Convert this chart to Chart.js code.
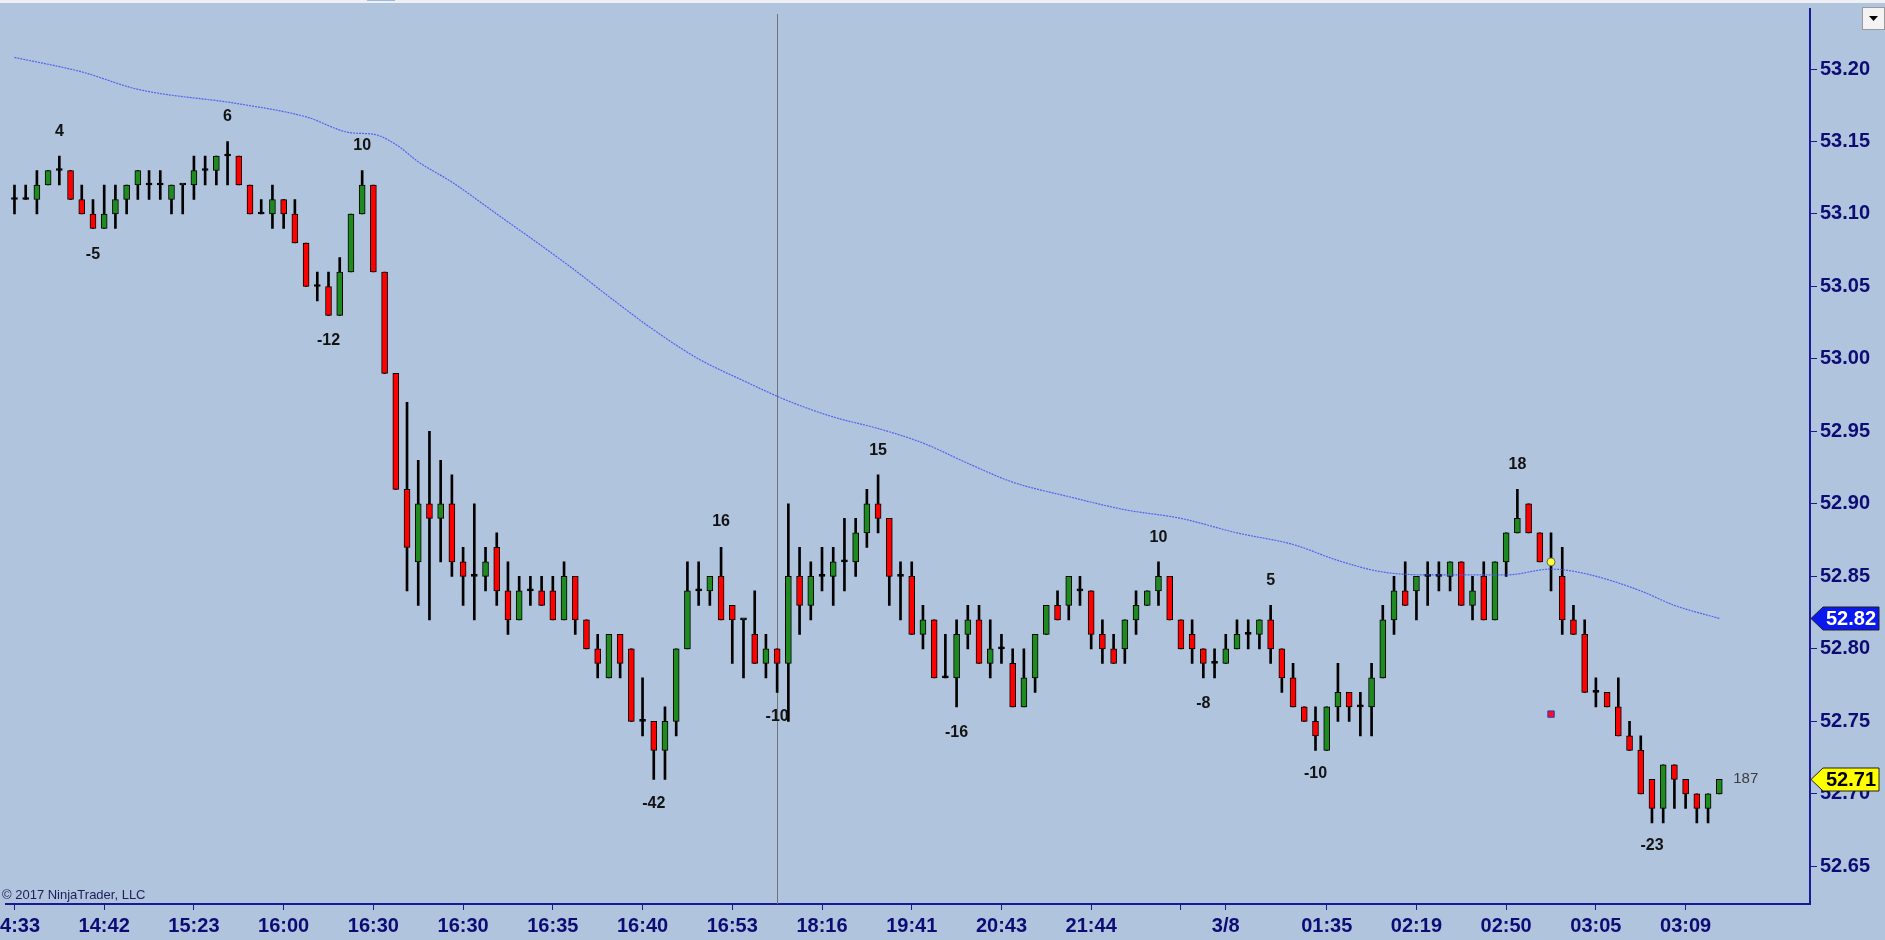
<!DOCTYPE html>
<html>
<head>
<meta charset="utf-8">
<title>CL 04-17 - NinjaTrader</title>
<script src="https://cdn.jsdelivr.net/npm/chart.js@4.4.1/dist/chart.umd.min.js"></script>
<style>
    html, body { margin: 0; padding: 0; background: #b0c4de; overflow: hidden; }
    canvas { display: block; }
</style>
</head>
<body>
<canvas id="grafico" width="1885" height="940"></canvas>
<script>
// Velas (barra 1 = la primera de la izquierda)
const opens = [
    53.11, 53.11, 53.11, 53.12, 53.13, 53.13, 53.11, 53.10, 53.09, 53.10,
    53.11, 53.12, 53.12, 53.12, 53.11, 53.12, 53.12, 53.13, 53.13, 53.14,
    53.14, 53.12, 53.10, 53.10, 53.11, 53.10, 53.08, 53.05, 53.05, 53.03,
    53.06, 53.10, 53.12, 53.06, 52.99, 52.91, 52.86, 52.90, 52.89, 52.90,
    52.86, 52.85, 52.85, 52.87, 52.84, 52.82, 52.84, 52.84, 52.84, 52.82,
    52.85, 52.82, 52.80, 52.78, 52.81, 52.80, 52.75, 52.75, 52.73, 52.75,
    52.80, 52.84, 52.84, 52.85, 52.83, 52.82, 52.81, 52.79, 52.80, 52.79,
    52.85, 52.83, 52.85, 52.85, 52.86, 52.86, 52.88, 52.90, 52.89, 52.85,
    52.85, 52.81, 52.82, 52.78, 52.78, 52.81, 52.82, 52.79, 52.80, 52.79,
    52.76, 52.78, 52.81, 52.83, 52.83, 52.84, 52.84, 52.81, 52.80, 52.80,
    52.82, 52.83, 52.84, 52.85, 52.82, 52.81, 52.80, 52.79, 52.79, 52.80,
    52.81, 52.81, 52.82, 52.80, 52.78, 52.76, 52.75, 52.73, 52.76, 52.77,
    52.76, 52.76, 52.78, 52.82, 52.84, 52.84, 52.85, 52.85, 52.85, 52.86,
    52.83, 52.85, 52.82, 52.86, 52.88, 52.90, 52.88, 52.86, 52.85, 52.82,
    52.81, 52.77, 52.77, 52.76, 52.74, 52.73, 52.71, 52.69, 52.72, 52.71,
    52.70, 52.69, 52.70
];
const highs = [
    53.12, 53.12, 53.13, 53.13, 53.14, 53.13, 53.12, 53.11, 53.12, 53.12,
    53.12, 53.13, 53.13, 53.13, 53.12, 53.12, 53.14, 53.14, 53.14, 53.15,
    53.14, 53.12, 53.11, 53.12, 53.11, 53.11, 53.08, 53.06, 53.06, 53.07,
    53.10, 53.13, 53.12, 53.06, 52.99, 52.97, 52.93, 52.95, 52.93, 52.92,
    52.87, 52.90, 52.87, 52.88, 52.86, 52.85, 52.85, 52.85, 52.85, 52.86,
    52.85, 52.82, 52.81, 52.81, 52.81, 52.80, 52.78, 52.75, 52.76, 52.80,
    52.86, 52.86, 52.85, 52.87, 52.83, 52.82, 52.84, 52.81, 52.80, 52.90,
    52.87, 52.86, 52.87, 52.87, 52.89, 52.89, 52.91, 52.92, 52.89, 52.86,
    52.86, 52.83, 52.82, 52.81, 52.82, 52.83, 52.83, 52.82, 52.81, 52.80,
    52.80, 52.81, 52.83, 52.84, 52.85, 52.85, 52.84, 52.82, 52.81, 52.82,
    52.84, 52.84, 52.86, 52.85, 52.82, 52.82, 52.80, 52.80, 52.81, 52.82,
    52.82, 52.82, 52.83, 52.80, 52.79, 52.76, 52.76, 52.76, 52.79, 52.77,
    52.77, 52.79, 52.83, 52.85, 52.86, 52.85, 52.86, 52.86, 52.86, 52.86,
    52.85, 52.86, 52.86, 52.88, 52.91, 52.90, 52.88, 52.88, 52.87, 52.83,
    52.82, 52.78, 52.77, 52.78, 52.75, 52.74, 52.71, 52.72, 52.72, 52.71,
    52.70, 52.70, 52.71
];
const lows = [
    53.10, 53.11, 53.10, 53.12, 53.12, 53.11, 53.10, 53.09, 53.09, 53.09,
    53.10, 53.11, 53.11, 53.11, 53.10, 53.10, 53.11, 53.12, 53.12, 53.12,
    53.12, 53.10, 53.10, 53.09, 53.09, 53.08, 53.05, 53.04, 53.03, 53.03,
    53.06, 53.10, 53.06, 52.99, 52.91, 52.84, 52.83, 52.82, 52.86, 52.85,
    52.83, 52.82, 52.84, 52.83, 52.81, 52.82, 52.83, 52.83, 52.82, 52.82,
    52.81, 52.80, 52.78, 52.78, 52.78, 52.75, 52.74, 52.71, 52.71, 52.74,
    52.80, 52.83, 52.83, 52.82, 52.79, 52.78, 52.79, 52.78, 52.77, 52.75,
    52.81, 52.82, 52.84, 52.83, 52.84, 52.85, 52.87, 52.88, 52.83, 52.82,
    52.81, 52.80, 52.78, 52.78, 52.76, 52.80, 52.79, 52.78, 52.79, 52.76,
    52.76, 52.77, 52.81, 52.82, 52.82, 52.83, 52.80, 52.79, 52.79, 52.79,
    52.81, 52.83, 52.83, 52.82, 52.80, 52.79, 52.78, 52.78, 52.79, 52.80,
    52.80, 52.80, 52.79, 52.77, 52.76, 52.75, 52.73, 52.73, 52.75, 52.75,
    52.74, 52.74, 52.78, 52.81, 52.83, 52.82, 52.83, 52.84, 52.84, 52.83,
    52.82, 52.82, 52.82, 52.85, 52.88, 52.88, 52.86, 52.84, 52.81, 52.81,
    52.77, 52.76, 52.76, 52.74, 52.73, 52.70, 52.68, 52.68, 52.69, 52.69,
    52.68, 52.68, 52.70
];
const closes = [
    53.11, 53.11, 53.12, 53.13, 53.13, 53.11, 53.10, 53.09, 53.10, 53.11,
    53.12, 53.13, 53.12, 53.12, 53.12, 53.12, 53.13, 53.13, 53.14, 53.14,
    53.12, 53.10, 53.10, 53.11, 53.10, 53.08, 53.05, 53.05, 53.03, 53.06,
    53.10, 53.12, 53.06, 52.99, 52.91, 52.87, 52.90, 52.89, 52.90, 52.86,
    52.85, 52.85, 52.86, 52.84, 52.82, 52.84, 52.84, 52.83, 52.82, 52.85,
    52.82, 52.80, 52.79, 52.81, 52.79, 52.75, 52.75, 52.73, 52.75, 52.80,
    52.84, 52.84, 52.85, 52.82, 52.82, 52.82, 52.79, 52.80, 52.79, 52.85,
    52.83, 52.85, 52.85, 52.86, 52.86, 52.88, 52.90, 52.89, 52.85, 52.85,
    52.81, 52.82, 52.78, 52.78, 52.81, 52.82, 52.79, 52.80, 52.80, 52.76,
    52.78, 52.81, 52.83, 52.82, 52.85, 52.84, 52.81, 52.80, 52.79, 52.82,
    52.83, 52.84, 52.85, 52.82, 52.80, 52.80, 52.79, 52.79, 52.80, 52.81,
    52.81, 52.82, 52.80, 52.78, 52.76, 52.75, 52.74, 52.76, 52.77, 52.76,
    52.76, 52.78, 52.82, 52.84, 52.83, 52.85, 52.85, 52.85, 52.86, 52.83,
    52.84, 52.82, 52.86, 52.88, 52.89, 52.88, 52.86, 52.86, 52.82, 52.81,
    52.77, 52.77, 52.76, 52.74, 52.73, 52.70, 52.69, 52.72, 52.71, 52.70,
    52.69, 52.70, 52.71
];

const maBars = [1, 7, 12, 21, 27, 31, 33, 35, 37, 40, 44, 48, 51, 54, 58, 62, 66, 70, 74, 78,
                82, 86, 90, 95, 100, 105, 110, 115, 119, 123, 128, 134, 138, 141, 146, 149, 153];
const maValues = [53.208, 53.198, 53.186, 53.176, 53.167, 53.156, 53.155, 53.148, 53.136, 53.122,
                  53.100, 53.078, 53.061, 53.043, 53.020, 53.000, 52.985, 52.971, 52.960, 52.952,
                  52.942, 52.928, 52.915, 52.905, 52.896, 52.890, 52.880, 52.872, 52.861, 52.853,
                  52.851, 52.851, 52.855, 52.852, 52.840, 52.830, 52.821];

// Conteo de swings
const swingBars = [5, 8, 20, 29, 32, 58, 64, 69, 78, 85, 103, 107, 113, 117, 135, 147];
const swingTexts = ['4', '-5', '6', '-12', '10', '-42', '16', '-10', '15', '-16', '10', '-8', '5', '-10', '18', '-23'];
const swingPrices = [53.157, 53.072, 53.167, 53.013, 53.147, 52.693, 52.888, 52.753, 52.937, 52.742,
                     52.877, 52.762, 52.847, 52.714, 52.927, 52.664];

// Marcas de senal
const dotBars = [138];
const dotPrices = [52.86];
const squareBars = [138];
const squarePrices = [52.755];

// Ejes
const xTickBars = [1, 9, 17, 25, 33, 41, 49, 57, 65, 73, 81, 89, 97, 105, 109, 118, 126, 134, 142, 150];
const xTickLabels = ['14:33', '14:42', '15:23', '16:00', '16:30', '16:30', '16:35', '16:40', '16:53', '18:16',
                     '19:41', '20:43', '21:44', '', '3/8', '01:35', '02:19', '02:50', '03:05', '03:09'];
const yTickValues = [52.65, 52.70, 52.75, 52.80, 52.85, 52.90, 52.95, 53.00, 53.05, 53.10, 53.15, 53.20];
const sessionBreakBar = 69;
const barCount = 187;

const FONT = "'Liberation Sans', Arial, sans-serif";
const NAVY = '#1a1a96';
const TICK_TEXT = '#0c0c74';
const VERDE = '#1f8a1f';
const ROJO = '#ff0000';

const barNumbers = opens.map((_, i) => i + 1);
const bodyColors = barNumbers.map((_, i) => closes[i] > opens[i] ? VERDE : (closes[i] < opens[i] ? ROJO : '#000'));

const decoracion = {
    id: 'decoracion',
    beforeDraw(chart) {
        const c = chart.ctx;
        c.save();
        c.fillStyle = '#b0c4de';
        c.fillRect(0, 0, chart.width, chart.height);
        c.fillStyle = '#eef0f4';
        c.fillRect(0, 0, chart.width, 3);
        c.fillStyle = '#9ab8e0';
        c.fillRect(367, 0, 28, 1);
        c.restore();
    },
    beforeDatasetsDraw(chart) {
        const c = chart.ctx;
        const x = Math.round(chart.scales.x.getPixelForValue(sessionBreakBar)) + 0.5;
        c.save();
        c.strokeStyle = '#737373';
        c.lineWidth = 1;
        c.beginPath();
        c.moveTo(x, chart.chartArea.top + 5);
        c.lineTo(x, chart.chartArea.bottom);
        c.stroke();
        c.restore();
    },
    afterDraw(chart) {
        const c = chart.ctx;
        const xs = chart.scales.x, ys = chart.scales.y;
        const area = chart.chartArea;
        c.save();

        // numeros de swing
        c.font = 'bold 16px ' + FONT;
        c.fillStyle = '#121212';
        c.textAlign = 'center';
        c.textBaseline = 'middle';
        swingBars.forEach((b, i) => {
            c.fillText(swingTexts[i], xs.getPixelForValue(b), ys.getPixelForValue(swingPrices[i]));
        });

        // contador de la barra actual
        const last = barNumbers[barNumbers.length - 1];
        c.font = '15px ' + FONT;
        c.fillStyle = '#3c3c3c';
        c.textAlign = 'left';
        c.fillText(String(barCount), xs.getPixelForValue(last) + 14, ys.getPixelForValue(closes[closes.length - 1]));

        // etiquetas de precio en el eje
        function etiqueta(valor, fondo, colorTexto) {
            const y = Math.round(ys.getPixelForValue(valor)) + 0.5;
            const x0 = area.right + 1;
            c.beginPath();
            c.moveTo(x0, y);
            c.lineTo(x0 + 12, y - 11.5);
            c.lineTo(x0 + 68, y - 11.5);
            c.lineTo(x0 + 68, y + 11.5);
            c.lineTo(x0 + 12, y + 11.5);
            c.closePath();
            c.fillStyle = fondo;
            c.fill();
            c.strokeStyle = '#202020';
            c.lineWidth = 1;
            c.stroke();
            c.font = 'bold 20px ' + FONT;
            c.fillStyle = colorTexto;
            c.textAlign = 'center';
            c.textBaseline = 'middle';
            c.fillText(valor.toFixed(2), x0 + 40, y + 1);
        }
        etiqueta(maValues[maValues.length - 1], '#0a18f0', '#ffffff');
        etiqueta(closes[closes.length - 1], '#ffff00', '#000000');

        // copyright
        c.font = '13px ' + FONT;
        c.fillStyle = '#1e1e5a';
        c.textAlign = 'left';
        c.textBaseline = 'alphabetic';
        c.fillText('\u00A9 2017 NinjaTrader, LLC', 2, area.bottom - 5);

        // boton de la esquina
        c.fillStyle = '#f3f3f3';
        c.fillRect(1862, 7, 23, 23);
        c.strokeStyle = '#9a9a9a';
        c.strokeRect(1862.5, 7.5, 22, 22);
        c.fillStyle = '#000';
        c.beginPath();
        c.moveTo(1869, 16);
        c.lineTo(1878, 16);
        c.lineTo(1873.5, 21);
        c.closePath();
        c.fill();

        c.restore();
    }
};

const ctx = document.getElementById('grafico').getContext('2d');
new Chart(ctx, {
    type: 'bar',
    data: {
        datasets: [
            {
                type: 'line',
                label: 'SMA',
                data: maBars.map((b, i) => ({ x: b, y: maValues[i] })),
                borderColor: 'rgba(72, 88, 240, 0.9)',
                borderWidth: 1.2,
                borderDash: [2, 1],
                pointRadius: 0,
                cubicInterpolationMode: 'monotone',
                order: 0
            },
            {
                type: 'line',
                label: 'punto',
                data: dotBars.map((b, i) => ({ x: b, y: dotPrices[i] })),
                showLine: false,
                pointStyle: 'circle',
                pointRadius: 4,
                backgroundColor: '#ffff3c',
                borderColor: '#6b6b40',
                borderWidth: 1,
                order: -1
            },
            {
                type: 'line',
                label: 'cuadro',
                data: squareBars.map((b, i) => ({ x: b, y: squarePrices[i] })),
                showLine: false,
                pointStyle: 'rect',
                pointRadius: 4.5,
                backgroundColor: '#ff1010',
                borderColor: '#2a34c8',
                borderWidth: 1,
                order: -1
            },
            {
                label: 'cuerpos',
                data: barNumbers.map((b, i) => ({ x: b, y: [opens[i], closes[i]] })),
                backgroundColor: bodyColors,
                borderColor: '#000',
                borderWidth: 1,
                borderSkipped: false,
                grouped: false,
                barThickness: 6,
                maxBarThickness: 6,
                minBarLength: 2,
                order: 1
            },
            {
                label: 'mechas',
                data: barNumbers.map((b, i) => ({ x: b, y: [lows[i], highs[i]] })),
                backgroundColor: '#000',
                borderWidth: 0,
                grouped: false,
                barThickness: 2,
                maxBarThickness: 2,
                order: 2
            }
        ]
    },
    options: {
        responsive: false,
        animation: false,
        devicePixelRatio: 1,
        layout: { padding: { top: 9, left: 0, right: 0, bottom: 0 } },
        plugins: {
            legend: { display: false },
            tooltip: { enabled: false }
        },
        scales: {
            x: {
                type: 'linear',
                position: 'bottom',
                min: 0.2,
                max: 161.09,
                offset: false,
                grid: { drawOnChartArea: false, offset: false, tickLength: 6, color: NAVY, lineWidth: 1 },
                border: { display: true, color: NAVY, width: 2 },
                ticks: {
                    autoSkip: false,
                    maxRotation: 0,
                    color: TICK_TEXT,
                    font: { family: FONT, size: 20, weight: 'bold' },
                    padding: 4,
                    callback: function(value, index) {
                        return xTickLabels[index];
                    }
                },
                afterBuildTicks: function(scale) {
                    scale.ticks = xTickBars.map(v => ({ value: v }));
                },
                afterFit: function(scale) {
                    scale.height = 36;
                    scale.paddingLeft = 0;
                    scale.paddingRight = 0;
                }
            },
            y: {
                type: 'linear',
                position: 'right',
                min: 52.624,
                max: 53.2414,
                beginAtZero: false,
                grid: { drawOnChartArea: false, tickLength: 7, color: NAVY, lineWidth: 1 },
                border: { display: true, color: NAVY, width: 2 },
                ticks: {
                    color: TICK_TEXT,
                    font: { family: FONT, size: 20, weight: 'bold' },
                    padding: 3,
                    callback: function(value) {
                        return Number(value).toFixed(2);
                    }
                },
                afterBuildTicks: function(scale) {
                    scale.ticks = yTickValues.map(v => ({ value: v }));
                },
                afterFit: function(scale) {
                    scale.width = 75;
                    scale.paddingTop = 0;
                    scale.paddingBottom = 0;
                }
            }
        }
    },
    plugins: [decoracion]
});
</script>
</body>
</html>
